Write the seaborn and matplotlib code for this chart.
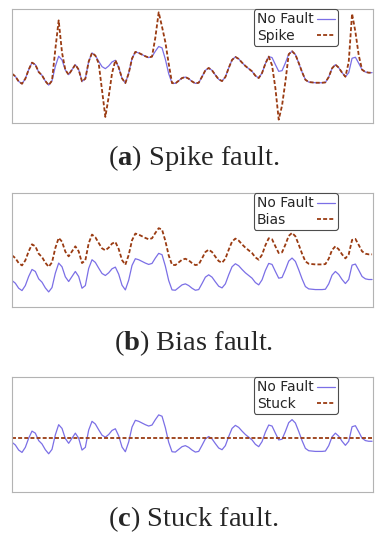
import numpy as np
import pandas as pd
import matplotlib
matplotlib.use('Agg')
import matplotlib.pyplot as plt
import seaborn as sns

# 정상 센서 신호
no_fault = [8.5, 7.7, 6.2, 5.5, 7.0, 9.7, 11.8, 11.2, 9.0, 8.0,
            6.3, 5.1, 6.4, 10.7, 13.7, 12.6, 9.6, 8.2, 9.7, 11.2,
            9.7, 6.2, 7.0, 12.1, 14.7, 13.9, 12.2, 10.6, 10.0, 10.8,
            12.0, 12.5, 10.4, 7.1, 5.7, 8.6, 13.0, 15.0, 14.7, 14.2,
            13.7, 13.3, 13.6, 15.2, 16.6, 16.2, 12.8, 8.5, 5.7, 5.6,
            6.4, 7.2, 7.5, 7.0, 6.2, 5.6, 5.8, 7.6, 9.5, 10.2,
            9.5, 8.1, 6.8, 6.3, 7.5, 10.2, 12.6, 13.5, 12.9, 11.8,
            10.8, 10.0, 9.2, 7.9, 7.2, 8.7, 11.5, 13.6, 13.3, 11.2,
            9.2, 9.4, 11.7, 14.3, 15.2, 14.2, 11.7, 9.0, 6.7, 6.0,
            5.9, 5.8, 5.8, 5.8, 5.9, 7.5, 10.1, 11.2, 10.3, 8.8,
            7.6, 8.8, 13.1, 13.4, 11.6, 9.7, 9.0, 8.8, 8.8]

# 스파이크 고장 구간 (인덱스: 값)
spike_idx = [13, 14, 15, 26, 27, 28, 29, 30, 43, 44, 45, 46, 47,
             78, 79, 80, 81, 82, 101, 102, 103, 104]
spike_val = [15.8, 24.4, 14.8, 11.6, 3.6, -4.4, 1.6, 8.6, 19.3, 26.8, 22.5, 17.9, 11.5,
             11.0, 4.2, -5.2, -1.0, 6.1, 12.0, 26.4, 21.0, 14.0]

bias_offset = 7.5
stuck_value = 9.7

t = np.arange(len(no_fault))
normal = np.array(no_fault)
spike = normal.copy()
spike[spike_idx] = spike_val
bias = normal + bias_offset
stuck = np.full(len(no_fault), stuck_value)

sns.set_style('white')
plt.rcParams['mathtext.fontset'] = 'custom'
plt.rcParams['mathtext.rm'] = 'Liberation Serif'
plt.rcParams['mathtext.bf'] = 'Liberation Serif:bold'

blue = '#7b6fe6'
brown = '#9a3b12'

fig = plt.figure(figsize=(3.87, 5.50), dpi=100)

panels = [
    ([0.031, 0.7764, 0.933, 0.2073], spike, 'Spike', (-6.2, 27.8), r'($\mathbf{a}$) Spike fault.', 0.712),
    ([0.031, 0.4418, 0.933, 0.2073], bias, 'Bias', (0.6, 34.6), r'($\mathbf{b}$) Bias fault.', 0.377),
    ([0.031, 0.1055, 0.933, 0.2090], stuck, 'Stuck', (-6.2, 27.8), r'($\mathbf{c}$) Stuck fault.', 0.056),
]

legends = []
for rect, fault, name, ylim, caption, cy in panels:
    ax = fig.add_axes(rect)
    sns.lineplot(x=t, y=normal, ax=ax, color=blue, linewidth=0.9, label='No Fault')
    sns.lineplot(x=t, y=fault, ax=ax, color=brown, linewidth=1.3, label=name)
    ax.lines[1].set_dashes((2.2, 1.2))
    ax.set_xlim(0, 108.3)
    ax.set_ylim(*ylim)
    ax.set_xticks([])
    ax.set_yticks([])
    for s in ax.spines.values():
        s.set_color('0.7')
        s.set_linewidth(0.8)
    leg = ax.legend(loc='upper right', bbox_to_anchor=(0.903, 1.0), borderaxespad=0,
                    markerfirst=False, fontsize=10, handlelength=1.3, handletextpad=0.2,
                    borderpad=0.25, labelspacing=0.15, fancybox=True, framealpha=1)
    leg.get_frame().set_edgecolor('0.3')
    leg.get_frame().set_linewidth(0.8)
    legends.append(leg)
    fig.text(0.5, cy, caption, ha='center', va='center', fontsize=20.5,
             family='Liberation Serif')

# 범례 글자는 왼쪽 정렬, 선은 오른쪽에 맞춘다
fig.canvas.draw()
r = fig.canvas.get_renderer()
for leg in legends:
    w = [tx.get_window_extent(r).width for tx in leg.get_texts()]
    rows = leg._legend_handle_box.get_children()[0].get_children()
    for row, wi in zip(rows, w):
        row.sep = row.sep + (max(w) - wi) * 72 / fig.dpi

fig.savefig('out.png', dpi=100)
